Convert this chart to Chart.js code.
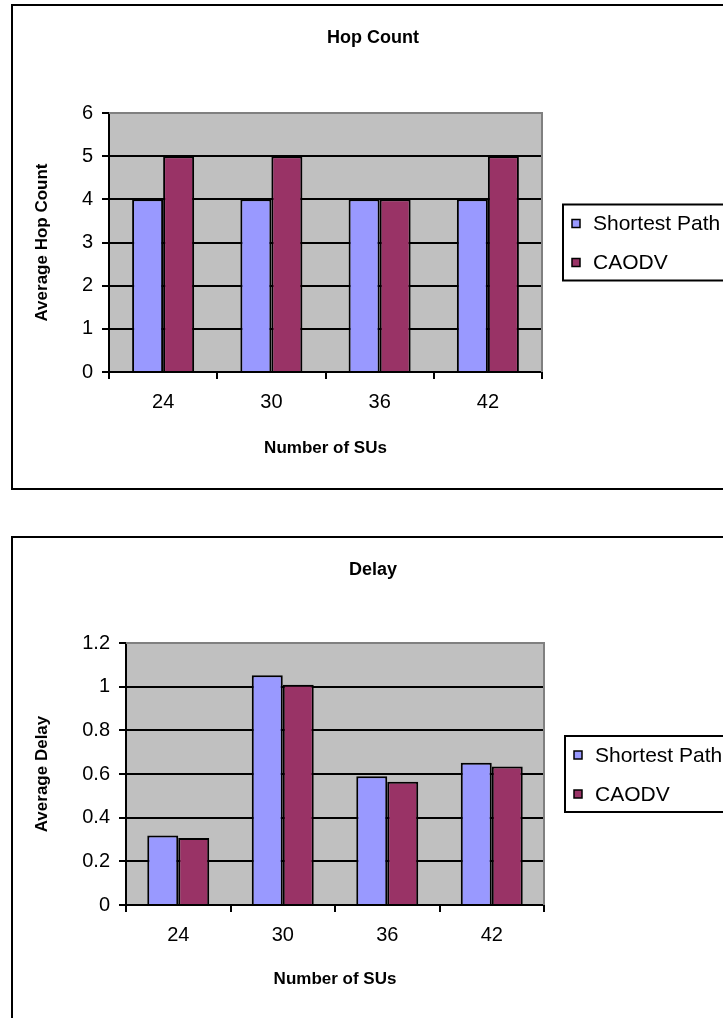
<!DOCTYPE html>
<html><head><meta charset="utf-8">
<script src="https://cdn.jsdelivr.net/npm/chart.js@4.4.1/dist/chart.umd.min.js"></script>
<style>
html,body{margin:0;padding:0;background:#fff;overflow:hidden;width:723px;height:1018px;}
.box{position:absolute;left:11px;width:726px;height:486px;border:2px solid #000;box-sizing:border-box;background:#fff;}
.box canvas{position:absolute;left:0;top:0;}
</style></head><body>
<div class="box" style="top:4px"><canvas id="c1" width="722" height="482" style="width:722px;height:482px"></canvas></div>
<div class="box" style="top:536px"><canvas id="c2" width="722" height="482" style="width:722px;height:482px"></canvas></div>
<script>
const categories = ['24', '30', '36', '42'];
const seriesNames = ['Shortest Path', 'CAODV'];
const hopShortest = [4, 4, 4, 4];
const hopCaodv = [5, 5, 4, 5];
const delayShortest = [0.318, 1.052, 0.59, 0.652];
const delayCaodv = [0.307, 1.009, 0.564, 0.634];
const hopTicks = [0, 1, 2, 3, 4, 5, 6];
const delayTicks = [0, 0.2, 0.4, 0.6, 0.8, 1, 1.2];

const FONT = '"Liberation Sans", Arial, Helvetica, sans-serif';
Chart.defaults.color = '#000';
Chart.defaults.font.family = FONT;

const TICK_SIZE = 20, LEGEND_SIZE = 21, TITLE_SIZE = 18, AXIS_TITLE_SIZE = 17;

const bgPlugin = {
  id: 'plotBg',
  afterLayout(chart) {
    // center the chart title on the whole framed box
    const t = chart.titleBlock;
    if (t) { t.left = 0; t.right = 720; t.width = 720; }
  },
  beforeDraw(chart) {
    const a = chart.chartArea, ctx = chart.ctx;
    ctx.save(); ctx.fillStyle = '#C0C0C0';
    ctx.fillRect(a.left, a.top, a.right - a.left, a.bottom - a.top);
    ctx.restore();
  },
  beforeDatasetsDraw(chart) {
    const a = chart.chartArea, ctx = chart.ctx;
    ctx.save(); ctx.strokeStyle = '#808080'; ctx.lineWidth = 2;
    ctx.beginPath();
    ctx.moveTo(a.left, a.top); ctx.lineTo(a.right, a.top); ctx.lineTo(a.right, a.bottom);
    ctx.stroke(); ctx.restore();
  }
};

const legendPlugin = {
  id: 'boxLegend',
  afterDraw(chart) {
    const a = chart.chartArea, ctx = chart.ctx;
    const lx = a.right + 21, h = 76, ly = (a.top + a.bottom) / 2 - h / 2;
    ctx.save();
    ctx.fillStyle = '#fff'; ctx.fillRect(lx, ly, 220, h);
    ctx.strokeStyle = '#000'; ctx.lineWidth = 2; ctx.strokeRect(lx, ly, 220, h);
    ctx.font = LEGEND_SIZE + 'px ' + FONT; ctx.textBaseline = 'middle'; ctx.textAlign = 'left';
    chart.data.datasets.forEach((ds, i) => {
      const y = ly + 19 + i * 39;
      ctx.fillStyle = ds.backgroundColor; ctx.fillRect(lx + 9, y - 4, 8, 8);
      ctx.lineWidth = 1.5; ctx.strokeStyle = '#000'; ctx.strokeRect(lx + 9, y - 4, 8, 8);
      ctx.fillStyle = '#000'; ctx.fillText(ds.label, lx + 30, y + 1);
    });
    ctx.restore();
  }
};

function makeChart(id, title, yTitle, s1, s2, ticks, g) {
  const W = 722, H = 482, Hx = 100;
  const titleLH = TITLE_SIZE * 1.2;
  const axLH = AXIS_TITLE_SIZE * 1.2;
  return new Chart(document.getElementById(id), {
    type: 'bar',
    data: {
      labels: categories,
      datasets: [
        { label: seriesNames[0], data: s1, backgroundColor: '#9999FF', borderColor: '#000', borderWidth: 2 },
        { label: seriesNames[1], data: s2, backgroundColor: '#993366', borderColor: '#000', borderWidth: 2 }
      ]
    },
    options: {
      responsive: false, animation: false,
      categoryPercentage: g.cat, barPercentage: 1,
      layout: { padding: { left: 0, top: 0, right: W - g.right, bottom: H - g.bottom - Hx } },
      plugins: {
        legend: { display: false }, tooltip: { enabled: false },
        title: { display: true, text: title, font: { size: TITLE_SIZE, weight: 'bold', lineHeight: 1.2 },
                 padding: { top: g.titleY - titleLH / 2, bottom: g.top - (g.titleY - titleLH / 2) - titleLH } }
      },
      scales: {
        x: {
          afterFit(s) { s.height = Hx; },
          grid: { drawOnChartArea: false, drawTicks: true, tickLength: 7, color: '#000', lineWidth: 2, offset: true },
          border: { color: '#000', width: 2 },
          ticks: { font: { size: TICK_SIZE }, padding: 11, color: '#000' },
          title: { display: true, text: 'Number of SUs', font: { size: AXIS_TITLE_SIZE, weight: 'bold', lineHeight: 1.2 },
                   padding: { top: 0, bottom: (g.bottom + Hx) - g.xTitleY - axLH / 2 } }
        },
        y: {
          min: ticks[0], max: ticks[ticks.length - 1],
          afterFit(s) { s.width = g.left; },
          afterBuildTicks(s) { s.ticks = ticks.map(v => ({ value: v })); },
          grid: { color: c => (c.tick && c.tick.value === ticks[ticks.length - 1]) ? '#808080' : '#000',
                  lineWidth: 2, drawTicks: true, tickLength: 7, tickColor: '#000' },
          border: { color: '#000', width: 2 },
          ticks: { font: { size: TICK_SIZE }, padding: 9, color: '#000', callback: v => String(v) },
          title: { display: true, text: yTitle, font: { size: AXIS_TITLE_SIZE, weight: 'bold', lineHeight: 1.2 },
                   padding: { top: g.yTitleX - axLH / 2, bottom: 0 } }
        }
      }
    },
    plugins: [bgPlugin, legendPlugin]
  });
}

makeChart('c1', 'Hop Count', 'Average Hop Count', hopShortest, hopCaodv, hopTicks,
  { left: 96, top: 107, right: 529, bottom: 366, cat: 0.573, titleY: 32, xTitleY: 442, yTitleX: 29 });
makeChart('c2', 'Delay', 'Average Delay', delayShortest, delayCaodv, delayTicks,
  { left: 113, top: 105, right: 531, bottom: 367, cat: 0.593, titleY: 32, xTitleY: 441, yTitleX: 29 });
</script>
</body></html>
